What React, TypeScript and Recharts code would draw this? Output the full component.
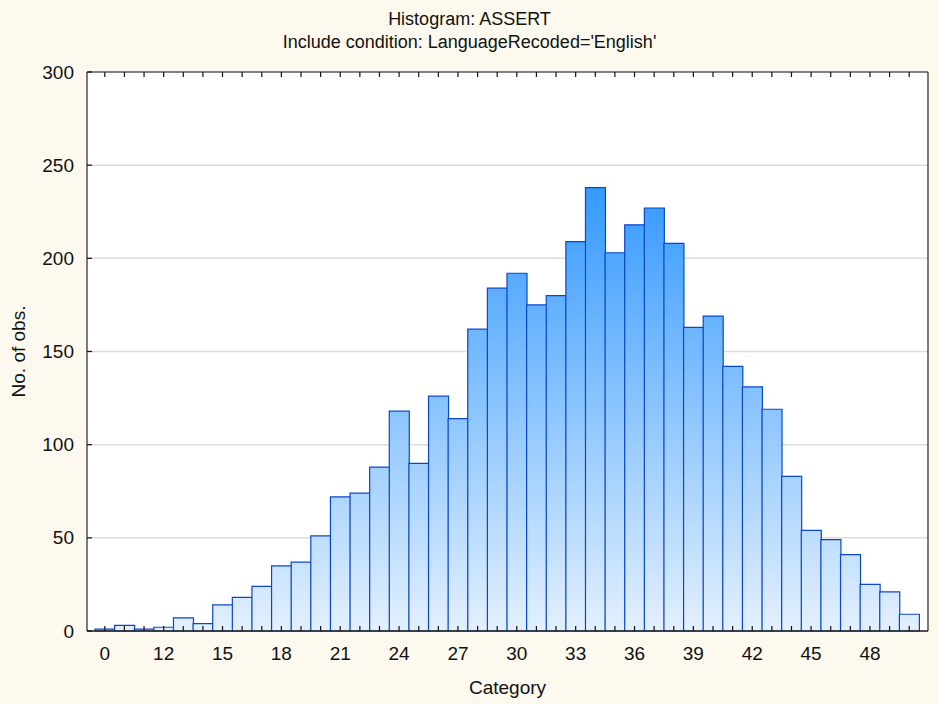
import { BarChart, Bar, XAxis, YAxis, CartesianGrid } from "recharts"

// histogram bins (one bar per category) and observed counts
const categories = [
  "9", "10", "11", "12", "13", "14", "15", "16", "17", "18", "19", "20", "21", "22",
  "23", "24", "25", "26", "27", "28", "29", "30", "31", "32", "33", "34", "35", "36",
  "37", "38", "39", "40", "41", "42", "43", "44", "45", "46", "47", "48", "49", "50",
]
const counts = [
  1, 3, 1, 2, 7, 4, 14, 18, 24, 35, 37, 51, 72, 74, 88, 118, 90, 126, 114, 162, 184,
  192, 175, 180, 209, 238, 203, 218, 227, 208, 163, 169, 142, 131, 119, 83, 54, 49, 41, 25, 21, 9,
]
// labels shown under every third bar
const xTickLabels = ["0", "12", "15", "18", "21", "24", "27", "30", "33", "36", "39", "42", "45", "48"]
const yTicks = [0, 50, 100, 150, 200, 250, 300]

const rows = categories.map((c, i) => ({ bin: c, count: counts[i] }))

const FONT = "'Liberation Sans', Arial, sans-serif"
const INK = "#111"

function BottomTick(props: any) {
  const { x, y, index } = props
  return (
    <g>
      <line x1={x} x2={x} y1={y} y2={y - 5} stroke={INK} strokeWidth={1.2} />
      {index % 3 === 0 && (
        <text x={x} y={y + 29} textAnchor="middle" fontSize={19} fill={INK} fontFamily={FONT}>
          {xTickLabels[index / 3]}
        </text>
      )}
    </g>
  )
}

function TopTick(props: any) {
  const { x, y } = props
  return <line x1={x} x2={x} y1={y} y2={y + 5} stroke={INK} strokeWidth={1.2} />
}

function LeftTick(props: any) {
  const { x, y, payload } = props
  return (
    <g>
      <line x1={x} x2={x + 5} y1={y} y2={y} stroke={INK} strokeWidth={1.2} />
      <text x={x - 13} y={y} dy="0.35em" textAnchor="end" fontSize={19} fill={INK} fontFamily={FONT}>
        {payload.value}
      </text>
    </g>
  )
}

function RightTick(props: any) {
  const { x, y } = props
  return <line x1={x} x2={x - 5} y1={y} y2={y} stroke={INK} strokeWidth={1.2} />
}

export default function App() {
  return (
    <div
      style={{
        position: "absolute",
        left: 0,
        top: 0,
        width: 939,
        height: 704,
        background: "#fdf9ee",
        fontFamily: FONT,
      }}
    >
      <div style={{ position: "absolute", left: 0, width: 939, top: 9, textAlign: "center", fontSize: 18, color: INK }}>
        Histogram: ASSERT
      </div>
      <div style={{ position: "absolute", left: 0, width: 939, top: 32, textAlign: "center", fontSize: 18, color: INK }}>
        Include condition: LanguageRecoded='English'
      </div>
      <BarChart
        width={939}
        height={704}
        data={rows}
        margin={{ top: 0, right: 0, bottom: 0, left: 0 }}
        barCategoryGap={0}
        style={{ position: "absolute", left: 0, top: 0 }}
      >
        <defs>
          <linearGradient id="histFill" gradientUnits="userSpaceOnUse" x1="0" y1="72" x2="0" y2="631">
            <stop offset="0" stopColor="#2b93ff" />
            <stop offset="0.2" stopColor="#3399ff" />
            <stop offset="1" stopColor="#e3f0fd" />
          </linearGradient>
        </defs>
        <CartesianGrid vertical={false} fill="#ffffff" stroke="#dcdcdc" strokeWidth={1.5} />
        <XAxis
          dataKey="bin"
          height={73}
          interval={0}
          padding={{ left: 8, right: 9 }}
          tickSize={0}
          tickMargin={0}
          tickLine={false}
          tick={BottomTick}
          axisLine={{ stroke: "#222", strokeWidth: 1.5 }}
          label={{ value: "Category", position: "insideBottom", offset: 10, fill: INK, fontSize: 19, fontFamily: FONT }}
        />
        <XAxis
          xAxisId="top"
          dataKey="bin"
          orientation="top"
          height={72}
          interval={0}
          padding={{ left: 8, right: 9 }}
          tickSize={0}
          tickMargin={0}
          tickLine={false}
          tick={TopTick}
          axisLine={{ stroke: "#222", strokeWidth: 1.2 }}
        />
        <YAxis
          width={87}
          domain={[0, 300]}
          ticks={yTicks}
          tickSize={0}
          tickMargin={0}
          tickLine={false}
          tick={LeftTick}
          axisLine={{ stroke: "#222", strokeWidth: 1.2 }}
          label={{
            value: "No. of obs.",
            angle: -90,
            position: "insideLeft",
            offset: 18,
            fill: INK,
            fontSize: 19,
            fontFamily: FONT,
            style: { textAnchor: "middle" },
          }}
        />
        <YAxis
          yAxisId="r"
          orientation="right"
          width={11}
          domain={[0, 300]}
          ticks={yTicks}
          tickSize={0}
          tickMargin={0}
          tickLine={false}
          tick={RightTick}
          axisLine={{ stroke: "#222", strokeWidth: 1.2 }}
        />
        <Bar dataKey="count" fill="url(#histFill)" stroke="#0b47c9" strokeWidth={1.2} isAnimationActive={false} />
      </BarChart>
    </div>
  )
}
